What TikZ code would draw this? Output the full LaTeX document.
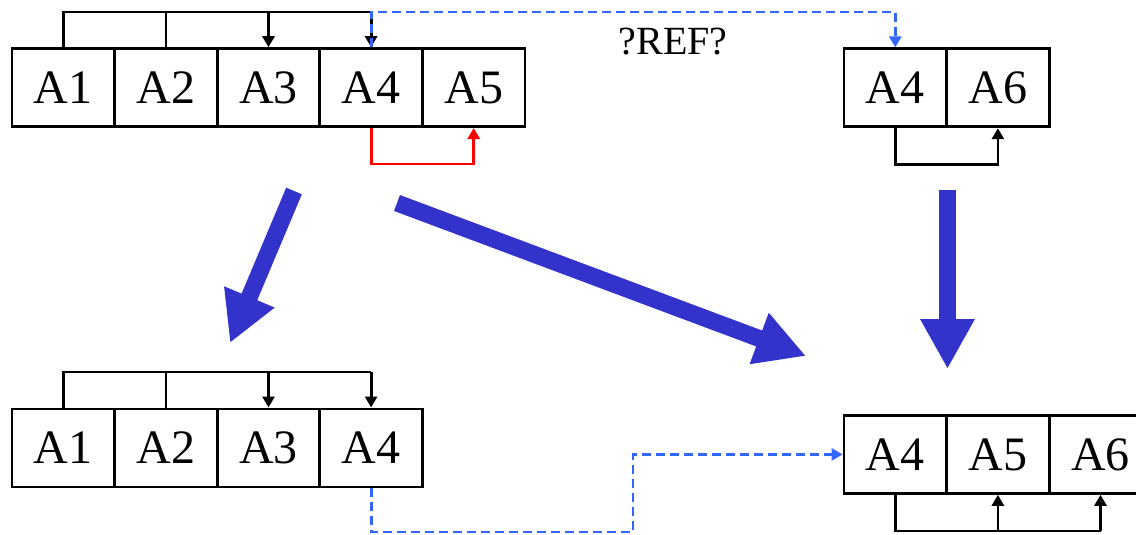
\documentclass[tikz,border=0pt]{standalone}
\usepackage{fontspec}
\setmainfont{Liberation Serif}
\usetikzlibrary{arrows.meta}
\definecolor{linkblue}{RGB}{51,102,255}
\definecolor{flowblue}{RGB}{51,51,204}
\definecolor{refred}{RGB}{255,0,0}

\begin{document}
\begin{tikzpicture}[x=1pt,y=-1pt,
  cell/.style={draw, line width=2.8pt, minimum width=102.6pt, minimum height=78pt,
    inner sep=0pt, font=\fontsize{48}{50}\selectfont},
  tiphead/.style={-{Triangle[length=11pt,width=12pt]}},
  conn/.style={line width=2.8pt},
  refline/.style={conn, refred, tiphead},
  dashlink/.style={line width=2.8pt, linkblue, dash pattern=on 9pt off 5pt, tiphead},
  flow/.style={line width=17pt, flowblue, -{Triangle[length=50pt,width=51pt]}}]
\useasboundingbox (0,0) rectangle (1136,535);

% upper left row
\node[cell] (t1) at (63.3,87.6) {A1};
\node[cell] (t2) at (165.9,87.6) {A2};
\node[cell] (t3) at (268.5,87.6) {A3};
\node[cell] (t4) at (371.1,87.6) {A4};
\node[cell] (t5) at (473.7,87.6) {A5};

% upper right row
\node[cell] (r1) at (895.3,87.8) {A4};
\node[cell] (r2) at (997.9,87.8) {A6};

% lower left row
\node[cell] (b1) at (63.3,447.9) {A1};
\node[cell] (b2) at (165.9,447.9) {A2};
\node[cell] (b3) at (268.5,447.9) {A3};
\node[cell] (b4) at (371.1,447.9) {A4};

% lower right row
\node[cell] (s1) at (895.3,454.4) {A4};
\node[cell] (s2) at (997.9,454.4) {A5};
\node[cell] (s3) at (1100.5,454.4) {A6};

% label
\node[font=\fontsize{40}{42}\selectfont, inner sep=0pt] (ref) at (673,42) {?REF?};

% bar heights
\coordinate (topbar) at (0,12);
\coordinate (lowbar) at (0,372);
\coordinate (sbar) at (0,531);
\coordinate (jog) at (633,532);

% upper left brackets
\draw[conn] (t1.north) -- (t1.north |- topbar) -- (t4.north |- topbar);
\draw[conn] (t2.north) -- (t2.north |- topbar);
\draw[conn,tiphead] (t3.north |- topbar) -- (t3.north);
\draw[conn,tiphead] (t4.north |- topbar) -- (t4.north);
\draw[refline] (t4.south) -- ++(0,36) -| (t5.south);

% dashed link to the upper right row
\draw[dashlink] (t4.north) -- (t4.north |- topbar) -| (r1.north);

% upper right bracket
\draw[conn,tiphead] (r1.south) -- ++(0,36) -| (r2.south);

% lower left brackets
\draw[conn] (b1.north) -- (b1.north |- lowbar) -- (b4.north |- lowbar);
\draw[conn] (b2.north) -- (b2.north |- lowbar);
\draw[conn,tiphead] (b3.north |- lowbar) -- (b3.north);
\draw[conn,tiphead] (b4.north |- lowbar) -- (b4.north);

% dashed link to the lower right row
\draw[dashlink] (b4.south) |- (jog) |- (s1.west);

% lower right brackets
\draw[conn] (s1.south) -- (s1.south |- sbar) -- (s3.south |- sbar);
\draw[conn,tiphead] (s2.south |- sbar) -- (s2.south);
\draw[conn,tiphead] (s3.south |- sbar) -- (s3.south);

% thick flow arrows
\coordinate (f1a) at (294,191);
\coordinate (f1b) at (230,343);
\coordinate (f2a) at (397,203);
\coordinate (f2b) at (806,356);
\coordinate (f3a) at (947.5,190);
\coordinate (f3b) at (947.5,369);
\draw[flow] (f1a) -- (f1b);
\draw[flow] (f2a) -- (f2b);
\draw[flow] (f3a) -- (f3b);
\end{tikzpicture}
\end{document}
